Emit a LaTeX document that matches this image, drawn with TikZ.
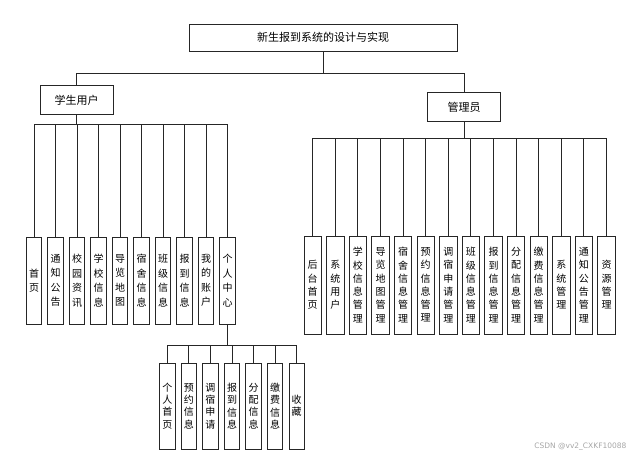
\documentclass[tikz,border=0pt]{standalone}
\usepackage{fontspec}
\newfontfamily\cjk{Noto Sans CJK SC}
\usepackage{tikz}
\usetikzlibrary{positioning}

\begin{document}
\begin{tikzpicture}[
    x=1pt, y=-1pt,
    line/.style={draw=black!85, line width=0.9pt},
    titlebox/.style={line, fill=white, minimum width=268pt, minimum height=27pt, inner sep=0pt, font=\cjk\fontsize{11}{13}\selectfont},
    rolebox/.style={line, fill=white, minimum width=73pt, minimum height=29pt, inner sep=0pt, font=\cjk\fontsize{11}{13}\selectfont},
    leaf/.style={line, fill=white, minimum width=15.5pt, minimum height=87pt, inner sep=0pt, align=center, font=\cjk\fontsize{10}{14.5}\selectfont},
    adminleaf/.style={leaf, minimum width=17.5pt, minimum height=98pt, font=\cjk\fontsize{10}{13.3}\selectfont},
    subleaf/.style={leaf, minimum height=86pt, font=\cjk\fontsize{10}{12.3}\selectfont}
]
\useasboundingbox (0,0) rectangle (638,458);

\node[titlebox] (root) at (323,37.5) {新生报到系统的设计与实现};
\node[rolebox] (stu) at (76.5,100) {学生用户};
\node[rolebox] (adm) at (464,107) {管理员};

\coordinate (tbar) at (323,73);
\draw[line] (root.south) -- (tbar) -| (stu.north);
\draw[line] (tbar) -| (adm.north);

% student side
\coordinate (sbar) at (76.5,124);
\draw[line] (stu.south) -- (sbar);
\foreach \t [count=\i from 0] in {首\\页, 通\\知\\公\\告, 校\\园\\资\\讯, 学\\校\\信\\息, 导\\览\\地\\图,
    宿\\舍\\信\\息, 班\\级\\信\\息, 报\\到\\信\\息, 我\\的\\账\\户, 个\\人\\中\\心} {
  \node[leaf] (s\i) at (34+21.5*\i,280.5) {\t};
  \draw[line] (sbar) -| (s\i.north);
}

% personal centre
\coordinate (pbar) at (227.5,345);
\draw[line] (s9.south) -- (pbar);
\foreach \t [count=\i from 0] in {个\\人\\首\\页, 预\\约\\信\\息, 调\\宿\\申\\请, 报\\到\\信\\息,
    分\\配\\信\\息, 缴\\费\\信\\息, 收\\藏} {
  \node[subleaf] (p\i) at (167.3+21.57*\i,406) {\t};
  \draw[line] (pbar) -| (p\i.north);
}

% admin side
\coordinate (abar) at (464,138);
\draw[line] (adm.south) -- (abar);
\foreach \t [count=\i from 0] in {后\\台\\首\\页, 系\\统\\用\\户, 学\\校\\信\\息\\管\\理, 导\\览\\地\\图\\管\\理,
    宿\\舍\\信\\息\\管\\理, 预\\约\\信\\息\\管\\理, 调\\宿\\申\\请\\管\\理, 班\\级\\信\\息\\管\\理,
    报\\到\\信\\息\\管\\理, 分\\配\\信\\息\\管\\理, 缴\\费\\信\\息\\管\\理, 系\\统\\管\\理,
    通\\知\\公\\告\\管\\理, 资\\源\\管\\理} {
  \node[adminleaf] (a\i) at (312.7+22.6*\i,285) {\t};
  \draw[line] (abar) -| (a\i.north);
}

\node[text=black!35, font=\fontspec{DejaVu Sans}\fontsize{7.5}{9}\selectfont, anchor=east] (mark) at (630,447) {CSDN @vv2\_CXKF10088};
\end{tikzpicture}
\end{document}
